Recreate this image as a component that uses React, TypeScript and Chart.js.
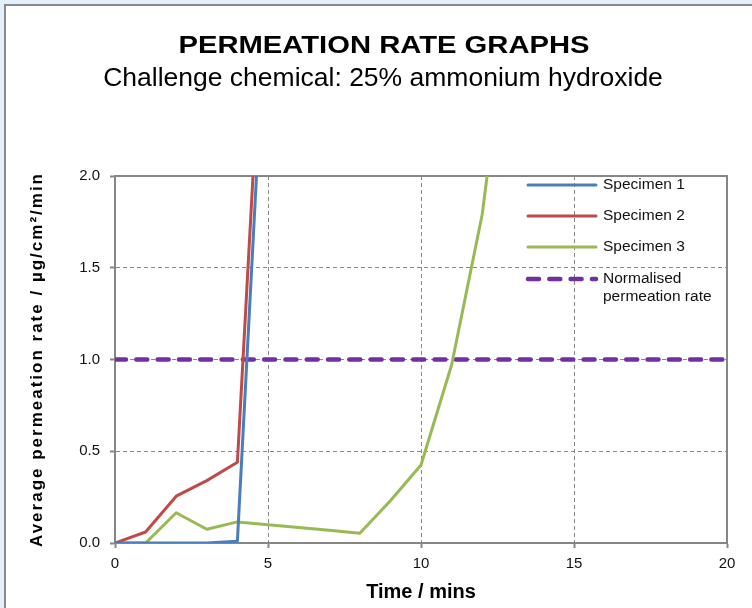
import React, { useEffect, useRef } from 'react';
import { Chart, registerables } from 'chart.js';

Chart.register(...registerables);

// ---- Text ----
const TITLE = 'PERMEATION RATE GRAPHS';
const SUBTITLE = 'Challenge chemical: 25% ammonium hydroxide';
const X_TITLE = 'Time / mins';
const Y_TITLE = 'Average permeation rate / µg/cm²/min';

// ---- Data ----
const specimen1X = [0, 1, 2, 3, 4, 5];
const specimen1Y = [0, 0, 0, 0, 0.01, 3.2];
const specimen2X = [0, 1, 2, 3, 4, 5];
const specimen2Y = [0, 0.06, 0.255, 0.34, 0.44, 3.5];
const specimen3X = [0, 1, 2, 3, 4, 5, 6, 7, 8, 9, 10, 11, 12, 13];
const specimen3Y = [0, 0, 0.165, 0.075, 0.115, 0.1, 0.085, 0.07, 0.053, 0.23, 0.425, 0.97, 1.79, 3.1];
const normalisedX = [0, 20];
const normalisedY = [1, 1];
const seriesLabels = ['Specimen 1', 'Specimen 2', 'Specimen 3', 'Normalised|permeation rate'];
const seriesColors = ['#4a7ebb', '#be4b48', '#98b954', '#7030a0'];
const xTickValues = [0, 5, 10, 15, 20];
const yTickValues = [0, 0.5, 1.0, 1.5, 2.0];

const FONT = '"Liberation Sans", Arial, Helvetica, sans-serif';
const GRID = '#868686';

const toPoints = (xs: number[], ys: number[]) => xs.map((x, i) => ({ x, y: ys[i] }));

const decorPlugin = {
  id: 'decor',
  beforeDraw(chart: any) {
    const ctx = chart.ctx;
    ctx.save();
    ctx.fillStyle = '#e3f2fa';
    ctx.fillRect(0, 0, chart.width, chart.height);
    ctx.fillStyle = '#ffffff';
    ctx.fillRect(5, 5, chart.width, chart.height);
    ctx.strokeStyle = '#8a8a8a';
    ctx.lineWidth = 2;
    ctx.beginPath();
    ctx.moveTo(5, chart.height + 5);
    ctx.lineTo(5, 5);
    ctx.lineTo(chart.width + 5, 5);
    ctx.stroke();
    ctx.restore();
  },
  beforeDatasetsDraw(chart: any) {
    const { ctx, chartArea: a } = chart;
    ctx.save();
    ctx.strokeStyle = GRID;
    ctx.lineWidth = 2;
    ctx.beginPath();
    ctx.moveTo(a.left, a.top);
    ctx.lineTo(a.right, a.top);
    ctx.lineTo(a.right, a.bottom);
    ctx.stroke();
    ctx.restore();
  },
  afterDraw(chart: any) {
    const { ctx, chartArea: a } = chart;
    ctx.save();
    // Titles
    ctx.fillStyle = '#000';
    ctx.textAlign = 'center';
    ctx.textBaseline = 'alphabetic';
    ctx.save();
    ctx.translate(384, 53);
    ctx.scale(1.27, 1);
    ctx.font = `bold 23px ${FONT}`;
    ctx.fillText(TITLE, 0, 0);
    ctx.restore();
    ctx.font = `26.5px ${FONT}`;
    ctx.fillText(SUBTITLE, 383, 86);

    // Axis titles
    ctx.font = `bold 20px ${FONT}`;
    ctx.textBaseline = 'middle';
    ctx.fillText(X_TITLE, (a.left + a.right) / 2, 592);
    ctx.save();
    ctx.translate(37, (a.top + a.bottom) / 2);
    ctx.rotate(-Math.PI / 2);
    ctx.font = `bold 17px ${FONT}`;
    (ctx as any).letterSpacing = '2px';
    ctx.fillText(Y_TITLE, 0, 0);
    ctx.restore();

    // Legend
    const rows = [185, 216, 247, 279];
    ctx.font = `15.5px ${FONT}`;
    ctx.textAlign = 'left';
    chart.data.datasets.forEach((ds: any, i: number) => {
      const y = rows[i];
      ctx.save();
      ctx.strokeStyle = ds.borderColor;
      ctx.lineWidth = ds.borderWidth;
      ctx.lineCap = 'round';
      ctx.setLineDash(ds.borderDash || []);
      ctx.beginPath();
      ctx.moveTo(528, y);
      ctx.lineTo(596, y);
      ctx.stroke();
      ctx.restore();
      ctx.fillStyle = '#111';
      const lines = String(ds.label).split('|');
      lines.forEach((t, j) => ctx.fillText(t, 603, y + j * 18));
    });
    ctx.restore();
  },
};

export default function App() {
  const ref = useRef<HTMLCanvasElement | null>(null);

  useEffect(() => {
    if (!ref.current) return;
    const datasets = [
      { xs: specimen1X, ys: specimen1Y, width: 3, dash: [] as number[] },
      { xs: specimen2X, ys: specimen2Y, width: 3, dash: [] as number[] },
      { xs: specimen3X, ys: specimen3Y, width: 3, dash: [] as number[] },
      { xs: normalisedX, ys: normalisedY, width: 4.5, dash: [11, 10.3] },
    ].map((d, i) => ({
      label: seriesLabels[i],
      data: toPoints(d.xs, d.ys),
      borderColor: seriesColors[i],
      backgroundColor: seriesColors[i],
      borderWidth: d.width,
      borderDash: d.dash,
      borderCapStyle: i === 3 ? 'round' : 'butt',
      borderJoinStyle: 'round',
      pointRadius: 0,
      tension: 0,
      fill: false,
    }));

    const chart = new Chart(ref.current, {
      type: 'line',
      data: { datasets: datasets as any },
      plugins: [decorPlugin],
      options: {
        animation: false,
        responsive: false,
        devicePixelRatio: 1,
        layout: { padding: { left: 75, top: 176, right: 25, bottom: 35 } },
        plugins: { legend: { display: false }, title: { display: false }, tooltip: { enabled: false } },
        scales: {
          x: {
            type: 'linear',
            min: 0,
            max: 20,
            afterFit: (s: any) => { s.height = 30; },
            afterBuildTicks: (s: any) => { s.ticks = xTickValues.map((v) => ({ value: v })); },
            ticks: { font: { family: FONT, size: 15 }, color: '#111', padding: 7, maxRotation: 0 },
            grid: {
              color: (c: any) => (c.tick && (c.tick.value === 0 || c.tick.value === 20) ? 'rgba(0,0,0,0)' : GRID),
              lineWidth: 1,
              tickColor: GRID,
              tickLength: 5,
              tickWidth: 2,
            },
            border: { color: GRID, width: 2, dash: [4, 3] },
          },
          y: {
            type: 'linear',
            min: 0,
            max: 2,
            afterFit: (s: any) => { s.width = 40; },
            afterBuildTicks: (s: any) => { s.ticks = yTickValues.map((v) => ({ value: v })); },
            ticks: {
              font: { family: FONT, size: 15 },
              color: '#111',
              padding: 10,
              callback: (v: any) => Number(v).toFixed(1),
            },
            grid: {
              color: (c: any) => (c.tick && (c.tick.value === 0 || c.tick.value === 2) ? 'rgba(0,0,0,0)' : GRID),
              lineWidth: 1,
              tickColor: GRID,
              tickLength: 5,
              tickWidth: 2,
            },
            border: { color: GRID, width: 2, dash: [4, 3] },
          },
        },
      } as any,
    });
    return () => chart.destroy();
  }, []);

  return (
    <div style={{ position: 'absolute', left: 0, top: 0, width: 752, height: 608 }}>
      <canvas ref={ref} width={752} height={608} style={{ display: 'block' }} />
    </div>
  );
}
